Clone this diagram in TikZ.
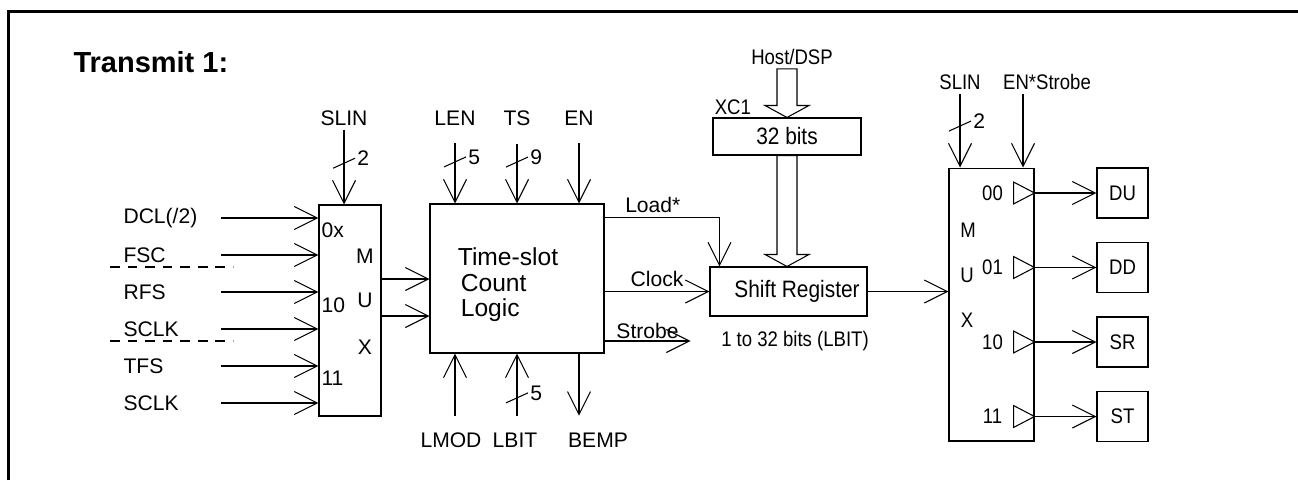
\documentclass[tikz,border=0pt]{standalone}
\usepackage{fontspec}
\setmainfont{Liberation Sans}
\newfontfamily\narrowfont[FakeStretch=0.88]{Liberation Sans}
\usetikzlibrary{arrows.meta,positioning,calc}

\tikzset{
  >={Straight Barb[length=0.46cm,width=0.46cm]},
  lbl/.style={font=\fontsize{12}{14}\selectfont, inner sep=2pt},
  nlbl/.style={font=\narrowfont\fontsize{12}{14}\selectfont, inner sep=2pt},
  blk/.style={draw, inner sep=0pt},
  sep/.style={dash pattern=on 5.5pt off 4.5pt}
}
% bus width mark on a line
\newcommand{\busslash}[2]{\draw (#1) ++(-11,5) -- ++(22,-10) node[lbl, right, inner sep=1pt] (#1n) {#2};}
% wide data path arrow
\newcommand{\fatarrow}[2]{\draw ($(#1)+(-10,0)$) -- ($(#2)+(-10,-12)$) -- ($(#2)+(-22,-12)$) -- (#2)
  -- ($(#2)+(22,-12)$) -- ($(#2)+(10,-12)$) -- ($(#1)+(10,0)$) -- cycle;}

\begin{document}
\begin{tikzpicture}[x=0.02cm, y=-0.02cm, line width=0.6pt]
  \useasboundingbox (0,0) rectangle (1298,480);
  \draw[line width=1.7pt] (8.7,480) -- (8.7,11.5) -- (1298,11.5);
  \node[anchor=west, inner sep=0pt, font=\bfseries\fontsize{16.5}{18}\selectfont] (title) at (73,62) {Transmit 1:};

  % input multiplexer
  \node[blk, minimum width=1.24cm, minimum height=4.22cm] (mux1) at (350,310.5) {};
  \node[lbl, anchor=west, inner sep=0pt] (m1p0) at (321,230) {0x};
  \node[lbl, anchor=west, inner sep=0pt] (m1p2) at (321,305) {10};
  \node[lbl, anchor=west, inner sep=0pt] (m1p3) at (321,378) {11};
  \node[lbl] (m1m) at (365,256) {M};
  \node[lbl] (m1u) at (365,300) {U};
  \node[lbl] (m1x) at (365,347) {X};
  \foreach \sig [count=\i] in {DCL(/2),FSC,RFS,SCLK,TFS,SCLK}{
    \node[lbl, anchor=west] (in\i) at (119.5,{218+37*(\i-1)}) {\sig};
    \draw[->] (in\i.west) ++(101.5,0) -- (in\i.west -| mux1.west);
  }
  \draw[sep] (110,267) -- (233,267);
  \draw[sep] (110,341) -- (233,341);

  \node[lbl] (slin1) at (344,118) {SLIN};
  \draw[->] (slin1.south) -- coordinate[pos=0.45] (slinb) (slin1.south |- mux1.north);
  \busslash{slinb}{2}

  % time-slot counter
  \node[blk, minimum width=3.48cm, minimum height=2.98cm] (tsc) at (517,278.5) {};
  \node[align=left, inner sep=0pt, font=\fontsize{14}{14.5}\selectfont] (tsctxt) at (508,285)
    {Time-slot\\\hspace*{1.7pt}Count\\\hspace*{1.7pt}Logic};
  \coordinate (m1o1) at ([yshift=0.63cm]mux1.east);
  \coordinate (m1o2) at ([yshift=-0.11cm]mux1.east);
  \draw[->] (m1o1) -- (m1o1 -| tsc.west);
  \draw[->] (m1o2) -- (m1o2 -| tsc.west);

  \node[lbl] (len) at (455,118) {LEN};
  \node[lbl] (ts) at (517,118) {TS};
  \node[lbl] (en) at (579,118) {EN};
  \draw[->, shorten <=0.28cm] (len.south) -- coordinate[pos=0.44] (lenb) (len.south |- tsc.north);
  \busslash{lenb}{5}
  \draw[->, shorten <=0.28cm] (ts.south) -- coordinate[pos=0.44] (tsb) (ts.south |- tsc.north);
  \busslash{tsb}{9}
  \draw[->, shorten <=0.28cm] (en.south) -- (en.south |- tsc.north);

  \node[lbl] (lmod) at (451,440) {LMOD};
  \node[lbl] (lbit) at (515,440) {LBIT};
  \node[lbl] (bemp) at (598,440) {BEMP};
  \draw[->, shorten <=0.26cm] (len |- lmod.north) -- (len |- tsc.south);
  \draw[->, shorten <=0.26cm] (ts |- lbit.north) -- coordinate[pos=0.41] (lbitb) (ts |- tsc.south);
  \busslash{lbitb}{5}
  \draw[->, shorten >=0.26cm] (en |- tsc.south) -- (en |- bemp.north);

  % shift register and its load buffer
  \node[blk, minimum width=3.14cm, minimum height=0.98cm, font=\narrowfont\fontsize{13.5}{15}\selectfont] (sr) at (788.5,291.5) {\hspace*{0.34cm}Shift Register};
  \node[nlbl, below=0.22cm of sr, xshift=0.13cm] (srbits) {1 to 32 bits (LBIT)};
  \node[blk, minimum width=2.96cm, minimum height=0.74cm, font=\narrowfont\fontsize{13.5}{15}\selectfont] (xc) at (787,136.5) {32 bits};
  \node[nlbl, anchor=south west, inner sep=1pt] (xc1) at (xc.north west) {XC1};
  \node[nlbl] (host) at (792,57) {Host/DSP};
  \coordinate (fa1) at (host.south -| xc.north);
  \coordinate (fa2) at (xc.south |- sr.north);
  \fatarrow{fa1}{xc.north}
  \fatarrow{xc.south}{fa2}

  \coordinate (ldst) at ([yshift=-0.28cm]tsc.north east);
  \draw[->] (ldst) -| node[lbl, pos=0.21, above, inner sep=2.5pt] (load) {Load*} ([xshift=0.2cm]sr.north west);
  \draw[->] (tsc.east |- sr.west) -- node[lbl, above, inner sep=2.5pt] (clk) {Clock} (sr.west);
  \coordinate (stbst) at ([yshift=-1.25cm]tsc.east);
  \draw[->] (stbst) -- node[lbl, above, inner sep=1pt] (stb) {Strobe} ++(86,0) coordinate (stbend);

  % output multiplexer
  \node[blk, minimum width=1.7cm, minimum height=5.46cm] (mux2) at (991.5,304.5) {};
  \draw[->] (sr.east) -- (sr.east -| mux2.west);
  \node[nlbl] (m2m) at (968,230) {M};
  \node[nlbl] (m2u) at (967,275) {U};
  \node[nlbl] (m2x) at (967,320) {X};
  \node[nlbl] (slin2) at (960,82) {SLIN};
  \node[nlbl] (enstb) at (1047,82) {EN*Strobe};
  \draw[->] (slin2.south) -- coordinate[pos=0.44] (slin2b) (slin2.south |- mux2.north);
  \busslash{slin2b}{2}
  \coordinate (enin) at ([xshift=-0.48cm]enstb.south);
  \draw[->] (enin) -- (enin |- mux2.north);

  \foreach \code/\dest [count=\i] in {00/DU,01/DD,10/SR,11/ST}{
    \node[blk, nlbl, minimum width=1.02cm, minimum height=1cm] (out\i) at (1122.5,{193+74.5*(\i-1)}) {\dest};
    \draw (mux2.east |- out\i) -- ++(-21,-11) -- ++(0,22) -- cycle;
    \node[nlbl] (port\i) at ($(mux2.east |- out\i)+(-42,0)$) {\code};
    \draw[->] (mux2.east |- out\i) -- (out\i.west);
  }
\end{tikzpicture}
\end{document}
